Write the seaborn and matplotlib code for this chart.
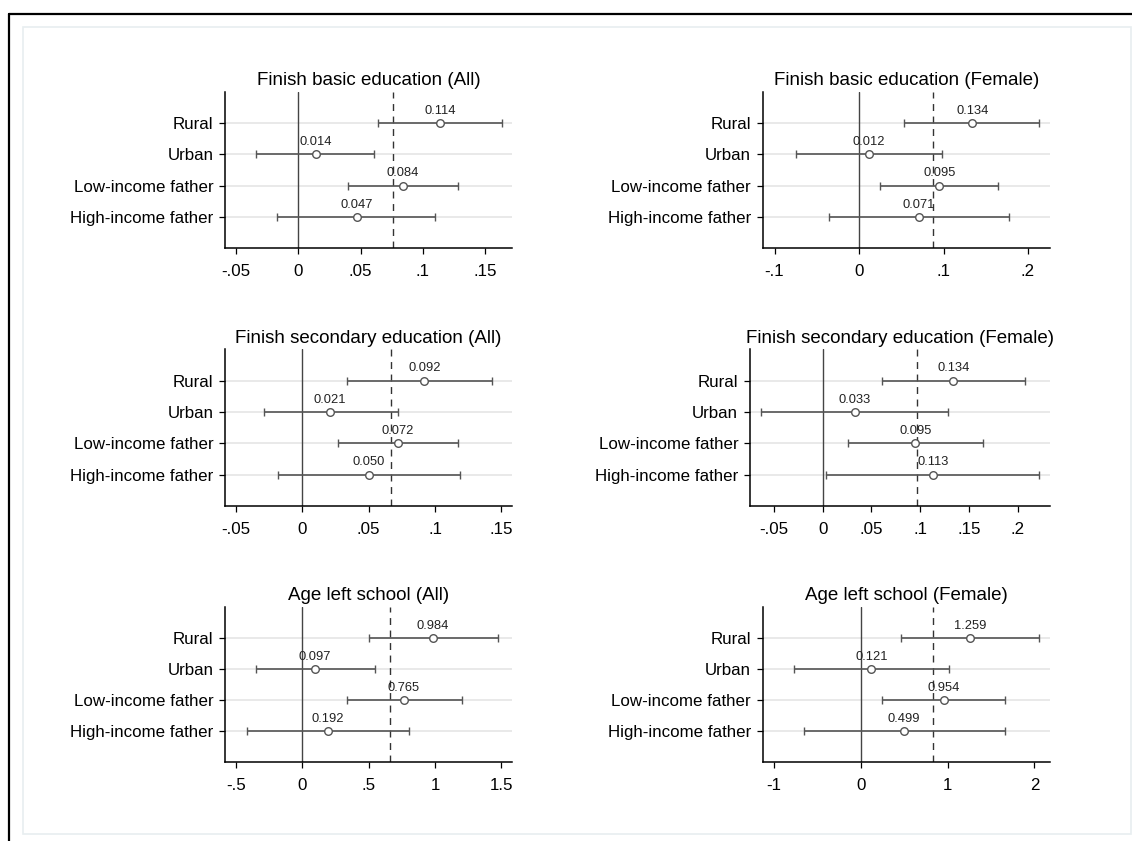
import matplotlib
matplotlib.use("Agg")
import matplotlib.pyplot as plt
from matplotlib.lines import Line2D
from matplotlib.patches import Rectangle
import numpy as np
import pandas as pd
import seaborn as sns

# ---- data -------------------------------------------------------------
categories = ["Rural", "Urban", "Low-income father", "High-income father"]

titles = [
    "Finish basic education (All)", "Finish basic education (Female)",
    "Finish secondary education (All)", "Finish secondary education (Female)",
    "Age left school (All)", "Age left school (Female)",
]

coef_basic_all = [0.114, 0.014, 0.084, 0.047]
lo_basic_all = [0.064, -0.034, 0.040, -0.017]
hi_basic_all = [0.163, 0.061, 0.128, 0.110]
ref_basic_all = 0.076

coef_basic_fem = [0.134, 0.012, 0.095, 0.071]
lo_basic_fem = [0.053, -0.075, 0.025, -0.036]
hi_basic_fem = [0.213, 0.098, 0.165, 0.178]
ref_basic_fem = 0.088

coef_sec_all = [0.092, 0.021, 0.072, 0.050]
lo_sec_all = [0.034, -0.029, 0.027, -0.018]
hi_sec_all = [0.143, 0.072, 0.117, 0.119]
ref_sec_all = 0.067

coef_sec_fem = [0.134, 0.033, 0.095, 0.113]
lo_sec_fem = [0.061, -0.063, 0.026, 0.003]
hi_sec_fem = [0.207, 0.128, 0.164, 0.222]
ref_sec_fem = 0.097

coef_age_all = [0.984, 0.097, 0.765, 0.192]
lo_age_all = [0.500, -0.351, 0.336, -0.414]
hi_age_all = [1.471, 0.547, 1.200, 0.801]
ref_age_all = 0.658

coef_age_fem = [1.259, 0.121, 0.954, 0.499]
lo_age_fem = [0.461, -0.769, 0.249, -0.654]
hi_age_fem = [2.057, 1.020, 1.664, 1.656]
ref_age_fem = 0.830

xticks_basic_all = [-0.05, 0, 0.05, 0.1, 0.15]
xlabels_basic_all = ["-.05", "0", ".05", ".1", ".15"]
xticks_basic_fem = [-0.1, 0, 0.1, 0.2]
xlabels_basic_fem = ["-.1", "0", ".1", ".2"]
xticks_sec_all = [-0.05, 0, 0.05, 0.1, 0.15]
xlabels_sec_all = ["-.05", "0", ".05", ".1", ".15"]
xticks_sec_fem = [-0.05, 0, 0.05, 0.1, 0.15, 0.2]
xlabels_sec_fem = ["-.05", "0", ".05", ".1", ".15", ".2"]
xticks_age_all = [-0.5, 0, 0.5, 1, 1.5]
xlabels_age_all = ["-.5", "0", ".5", "1", "1.5"]
xticks_age_fem = [-1, 0, 1, 2]
xlabels_age_fem = ["-1", "0", "1", "2"]

panels = [
    (coef_basic_all, lo_basic_all, hi_basic_all, ref_basic_all, xticks_basic_all, xlabels_basic_all),
    (coef_basic_fem, lo_basic_fem, hi_basic_fem, ref_basic_fem, xticks_basic_fem, xlabels_basic_fem),
    (coef_sec_all, lo_sec_all, hi_sec_all, ref_sec_all, xticks_sec_all, xlabels_sec_all),
    (coef_sec_fem, lo_sec_fem, hi_sec_fem, ref_sec_fem, xticks_sec_fem, xlabels_sec_fem),
    (coef_age_all, lo_age_all, hi_age_all, ref_age_all, xticks_age_all, xlabels_age_all),
    (coef_age_fem, lo_age_fem, hi_age_fem, ref_age_fem, xticks_age_fem, xlabels_age_fem),
]

# x-limits of each panel (axis extent)
xlims = [(-0.0586, 0.1714), (-0.114, 0.226), (-0.058, 0.158),
         (-0.0745, 0.233), (-0.58, 1.58), (-1.13, 2.18)]

# ---- style ------------------------------------------------------------
sns.set_theme(style="white")
plt.rcParams["font.family"] = ["Liberation Sans", "DejaVu Sans"]

W, H = 1132, 841
fig = plt.figure(figsize=(W / 100, H / 100), dpi=100)
fig.patch.set_facecolor("white")

def px_rect(x0, y0, x1, y1):
    return [x0 / W, 1 - y1 / H, (x1 - x0) / W, (y1 - y0) / H]

# axes boxes in pixel coordinates (left, top, right, bottom)
boxes = [
    (225.3, 91.7, 512.0, 248.3), (762.7, 91.7, 1050.0, 248.3),
    (225.3, 349.3, 512.0, 506.0), (750.0, 349.3, 1050.0, 506.0),
    (225.3, 606.7, 512.0, 762.3), (762.7, 606.7, 1050.0, 762.3),
]

# outer frame lines and inner light panel
fig.add_artist(Line2D([8.5 / W, 8.5 / W], [0, 1 - 13.5 / H], color="black",
                      lw=1.6, transform=fig.transFigure))
fig.add_artist(Line2D([8.5 / W, 1], [1 - 13.8 / H, 1 - 13.8 / H], color="black",
                      lw=1.6, transform=fig.transFigure))
fig.add_artist(Rectangle((22.5 / W, 1 - 834 / H), (1131 - 22.5) / W, (834 - 26.7) / H,
                         transform=fig.transFigure, fill=False,
                         edgecolor="#e8eef0", lw=1.2))

CI_COLOR = "#555555"
y_pos = np.arange(1, len(categories) + 1)

for i, ((coef, lo, hi, ref, xt, xl), title, box, xlim) in enumerate(
        zip(panels, titles, boxes, xlims)):
    ax = fig.add_axes(px_rect(*box))
    df = pd.DataFrame({"cat": categories, "y": y_pos, "coef": coef,
                       "lo": lo, "hi": hi})

    ax.set_xlim(*xlim)
    ax.set_ylim(5, 0)

    # light horizontal grid at each row
    for yv in df["y"]:
        ax.axhline(yv, color="#e3e3e3", lw=1.1, zorder=0)

    # zero line and reference (dashed) line
    ax.axvline(0, color="#444444", lw=1.0, zorder=1)
    ax.axvline(ref, color="#333333", lw=1.0, ls=(0, (5, 4)), zorder=1)

    # confidence intervals
    ax.errorbar(df["coef"], df["y"],
                xerr=[df["coef"] - df["lo"], df["hi"] - df["coef"]],
                fmt="none", ecolor=CI_COLOR, elinewidth=1.2, capsize=3.2,
                capthick=1.0, zorder=2)

    # point estimates (hollow circles)
    sns.scatterplot(data=df, x="coef", y="y", ax=ax, marker="o", s=30,
                    facecolor="white", edgecolor=CI_COLOR, linewidth=1.0,
                    zorder=3, legend=False)

    # value labels
    for _, r in df.iterrows():
        ax.annotate(f"{r['coef']:.3f}", (r["coef"], r["y"]),
                    xytext=(0, 4.5), textcoords="offset points",
                    ha="center", va="bottom", fontsize=9.3, color="#222222",
                    zorder=4)

    ax.set_yticks(y_pos)
    ax.set_yticklabels(categories)
    ax.set_xticks(xt)
    ax.set_xticklabels(xl)
    ax.set_xlabel("")
    ax.set_ylabel("")
    ax.set_title(title, fontsize=13.5, pad=4.5, color="black")

    for side in ["top", "right"]:
        ax.spines[side].set_visible(False)
    for side in ["left", "bottom"]:
        ax.spines[side].set_color("black")
        ax.spines[side].set_linewidth(1.1)

    ax.tick_params(axis="both", which="major", direction="out", length=4.5,
                   width=0.9, color="black", labelsize=12.2, labelcolor="black",
                   left=True, bottom=True)
    ax.tick_params(axis="y", pad=4)
    ax.tick_params(axis="x", pad=7)
    ax.set_facecolor("white")

fig.savefig("out.png", dpi=100, facecolor="white")
